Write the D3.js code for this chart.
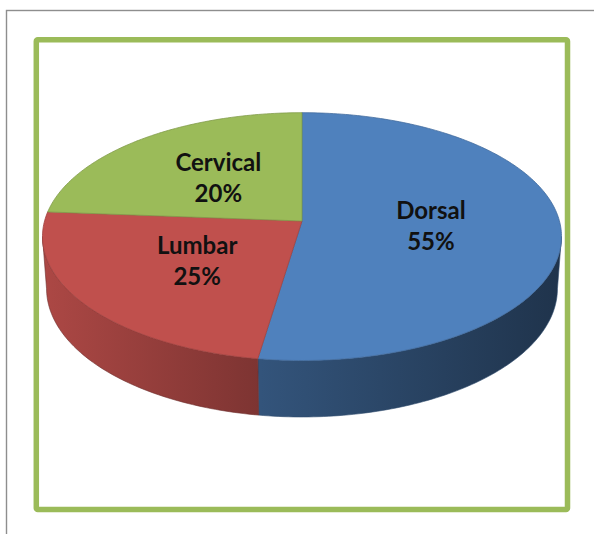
<!DOCTYPE html>
<html lang="en">
<head>
    <meta charset="UTF-8">
    <title>Pie_3D_Spine</title>
    <style>
        body {
            margin: 0;
            background: #fff;
        }
        #pieChart {
            width: 594px;
            height: 534px;
        }
        .label {
            font-family: Lato, "Open Sans", sans-serif;
            font-weight: bold;
            font-size: 24px;
            fill: #111;
        }
    </style>
</head>
<body>
    <div id="pieChart"></div>

    <script src="https://d3js.org/d3.v7.min.js"></script>
    <script>
        // Slices, in drawing order (clockwise from 12 o'clock)
        const categories = ["Dorsal", "Lumbar", "Cervical"];
        // share of the pie as drawn in the picture
        const shares = [52.4, 23.8, 23.8];
        // text printed on the slices
        const pctLabels = ["55%", "25%", "20%"];
        const colors = ["#4F81BD", "#C0504D", "#9BBB59"];

        // Layout / 3D view configuration
        const config = {
            width: 594, height: 534,
            cx: 302, cy: 221,        // screen position of the pie centre
            focal: 1800.8,           // perspective focal length (px)
            dist: 6.995,             // camera distance, in pie radii
            tilt: 28.27 * Math.PI / 180,
            depth: 0.2313,           // pie thickness, in pie radii
            labelRadius: 0.5,
            lineGap: 31
        };

        const sinT = Math.sin(config.tilt), cosT = Math.cos(config.tilt);

        // scales from projected (normalised) coords to pixels
        const xScale = d3.scaleLinear().domain([0, 1]).range([config.cx, config.cx + config.focal]);
        const yScale = d3.scaleLinear().domain([0, 1]).range([config.cy, config.cy - config.focal]);

        // project a point of the pie (angle clockwise from top, radius, height) to the screen
        function project(theta, r, h) {
            const X = r * Math.sin(theta), Z = r * Math.cos(theta);
            const v = Z * sinT + h * cosT;
            const w = Z * cosT - h * sinT;
            const k = 1 / (config.dist + w);
            return [xScale(X * k), yScale(v * k)];
        }

        function arcPoints(a0, a1, h) {
            const n = Math.max(2, Math.ceil(Math.abs(a1 - a0) / (Math.PI / 180)));
            return d3.range(n + 1).map(i => project(a0 + (a1 - a0) * i / n, 1, h));
        }

        const line = d3.line();

        const svg = d3.select("#pieChart").append("svg")
            .attr("width", config.width)
            .attr("height", config.height);

        // outer grey frame (cut off by the picture at right / bottom)
        svg.append("rect")
            .attr("x", 6.5).attr("y", 10.5)
            .attr("width", 700).attr("height", 700)
            .style("fill", "none")
            .style("stroke", "#8E8E8E")
            .style("stroke-width", 1.4);

        // green border of the chart area
        svg.append("rect")
            .attr("x", 36.3).attr("y", 39.8)
            .attr("width", 531.2).attr("height", 469.7)
            .attr("rx", 1.5)
            .style("fill", "#fff")
            .style("stroke", "#9BBB59")
            .style("stroke-width", 5.5);

        const pie = d3.pie().sort(null).value(d => d.value);
        const slices = pie(categories.map((c, i) => ({ name: c, value: shares[i], label: pctLabels[i], color: colors[i] })));

        // side gradients: lighter on the left, darker to the right
        const defs = svg.append("defs");
        const left = project(-Math.PI / 2, 1, 0)[0] - 5, right = project(Math.PI / 2, 1, 0)[0] + 5;
        slices.forEach((s, i) => {
            const base = d3.color(s.data.color);
            const g = defs.append("linearGradient")
                .attr("id", "side" + i)
                .attr("gradientUnits", "userSpaceOnUse")
                .attr("x1", left).attr("x2", right)
                .attr("y1", 0).attr("y2", 0);
            [[0, 0.3], [0.42, 1.2], [1, 2.6]].forEach(([o, k]) => {
                g.append("stop").attr("offset", o).attr("stop-color", base.darker(k).formatHex());
            });
        });

        // visible part of the cylinder wall: between the two silhouette angles
        const silA = Math.acos(-config.dist === 0 ? 0 : -cosT / config.dist);
        const silB = 2 * Math.PI - silA;

        const sides = svg.append("g").attr("class", "sides");
        slices.forEach((s, i) => {
            const a0 = Math.max(s.startAngle, silA), a1 = Math.min(s.endAngle, silB);
            if (a1 <= a0) return;
            const top = arcPoints(a0, a1, 0);
            const bottom = arcPoints(a0, a1, -config.depth).reverse();
            sides.append("path")
                .attr("d", line(top.concat(bottom)) + "Z")
                .style("fill", `url(#side${i})`)
                .style("stroke", d3.color(s.data.color).darker(1.6).formatHex())
                .style("stroke-width", 0.6);
        });

        // top faces
        const tops = svg.append("g").attr("class", "tops");
        slices.forEach(s => {
            const pts = [project(0, 0, 0)].concat(arcPoints(s.startAngle, s.endAngle, 0));
            tops.append("path")
                .attr("d", line(pts) + "Z")
                .style("fill", s.data.color)
                .style("stroke", d3.color(s.data.color).darker(0.5).formatHex())
                .style("stroke-width", 0.8);
        });

        // labels at the middle of each slice
        const labels = svg.append("g");
        slices.forEach(s => {
            const mid = (s.startAngle + s.endAngle) / 2;
            const [px, py] = project(mid, config.labelRadius, 0);
            const t = labels.append("text")
                .attr("class", "label")
                .attr("text-anchor", "middle")
                .attr("x", px).attr("y", py - 7);
            t.append("tspan").attr("x", px).text(s.data.name);
            t.append("tspan").attr("x", px).attr("dy", config.lineGap).text(s.data.label);
        });
    </script>
</body>
</html>
